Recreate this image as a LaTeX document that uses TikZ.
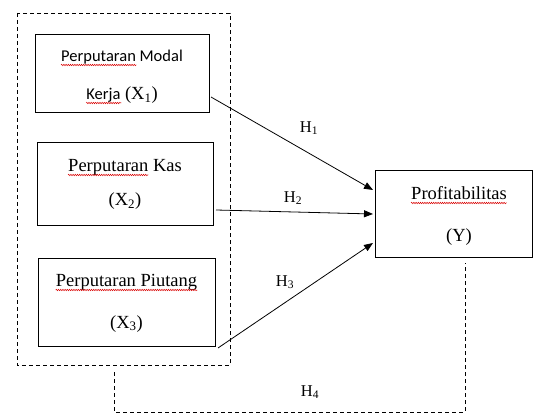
\documentclass[tikz,border=0pt]{standalone}
\usepackage{fontspec}
\setmainfont{Liberation Serif}
\newfontfamily\calib{Carlito}
\usetikzlibrary{arrows.meta,decorations.pathmorphing,calc}
\newcommand{\sfbig}{\calib\fontsize{16.5}{20}\selectfont}
\newcommand{\rmbig}{\fontsize{18.5}{21}\selectfont}
\begin{document}
\begin{tikzpicture}[x=1pt,y=-1pt,
  box/.style={draw,line width=0.9pt},
  grp/.style={draw,line width=0.8pt,dash pattern=on 4pt off 3pt},
  txt/.style={inner sep=0pt,anchor=base,font=\rmbig},
  ctxt/.style={inner sep=0pt,anchor=base,font=\sfbig},
  spell/.style={draw=red!85!black,line width=0.5pt,decorate,decoration={snake,amplitude=0.7pt,segment length=2.2pt}},
  arr/.style={draw,line width=0.8pt,-{Triangle[length=9pt,width=7pt]}},
  hl/.style={inner sep=0pt,font=\fontsize{16.5}{18}\selectfont}]
\useasboundingbox (0,0) rectangle (533,414);
% group
\coordinate (g1) at (17,13);
\coordinate (g2) at (230,365);
\draw[grp] (g1) rectangle (g2);
% boxes
\node[box,minimum width=174pt,minimum height=78pt,inner sep=0pt] (b1) at (122,73) {};
\node[box,minimum width=176pt,minimum height=83pt,inner sep=0pt] (b2) at (125,183.5) {};
\node[box,minimum width=177pt,minimum height=88pt,inner sep=0pt] (b3) at (126.5,302) {};
\node[box,minimum width=157pt,minimum height=87pt,inner sep=0pt] (by) at (453.5,213.5) {};
% texts box 1
\node[ctxt] (t1a) at (122,62) {Perputaran Modal};
\node[txt] (t1b) at (122,100) {{\sfbig Kerja} (X\textsubscript{1})};
% box 2
\node[txt] (t2a) at (125,172) {Perputaran Kas};
\node[txt] (t2b) at (125,206) {(X\textsubscript{2})};
% box 3
\node[txt] (t3a) at (126.5,287) {Perputaran Piutang};
\node[txt] (t3b) at (126.5,328) {(X\textsubscript{3})};
% box Y
\node[txt] (tya) at (459,200) {Profitabilitas};
\node[txt] (tyb) at (459,242) {(Y)};
% spell underlines
\draw[spell] ([yshift=-3pt]t1a.base west) -- ($([yshift=-3pt]t1a.base west)!0.617!([yshift=-3pt]t1a.base east)$);
\draw[spell] ([yshift=-3pt]t1b.base west) -- ($([yshift=-3pt]t1b.base west)!0.49!([yshift=-3pt]t1b.base east)$);
\draw[spell] ([yshift=-3pt]t2a.base west) -- ($([yshift=-3pt]t2a.base west)!0.706!([yshift=-3pt]t2a.base east)$);
\draw[spell] ([yshift=-3pt]t3a.base west) -- ([yshift=-3pt]t3a.base east);
\draw[spell] ([yshift=-3pt]tya.base west) -- ([yshift=-3pt]tya.base east);
% arrows
\coordinate (s1) at (211,97);
\coordinate (e1) at (373,190);
\coordinate (s2) at (216,210);
\coordinate (e2) at (373,214);
\coordinate (s3) at (218,348);
\coordinate (e3) at (373,243);
\draw[arr] (s1) -- (e1);
\draw[arr] (s2) -- (e2);
\draw[arr] (s3) -- (e3);
\node[hl] (h1) at (309,128) {H\textsubscript{1}};
\node[hl] (h2) at (293,198) {H\textsubscript{2}};
\node[hl] (h3) at (285,282) {H\textsubscript{3}};
\node[hl] (h4) at (310,392) {H\textsubscript{4}};
% H4 dashed
\coordinate (d1) at (114,372);
\coordinate (d2) at (114,412);
\coordinate (d3) at (465,412);
\coordinate (d4) at (465,263);
\draw[grp] (d1) -- (d2) -- (d3) -- (d4);
\end{tikzpicture}
\end{document}
